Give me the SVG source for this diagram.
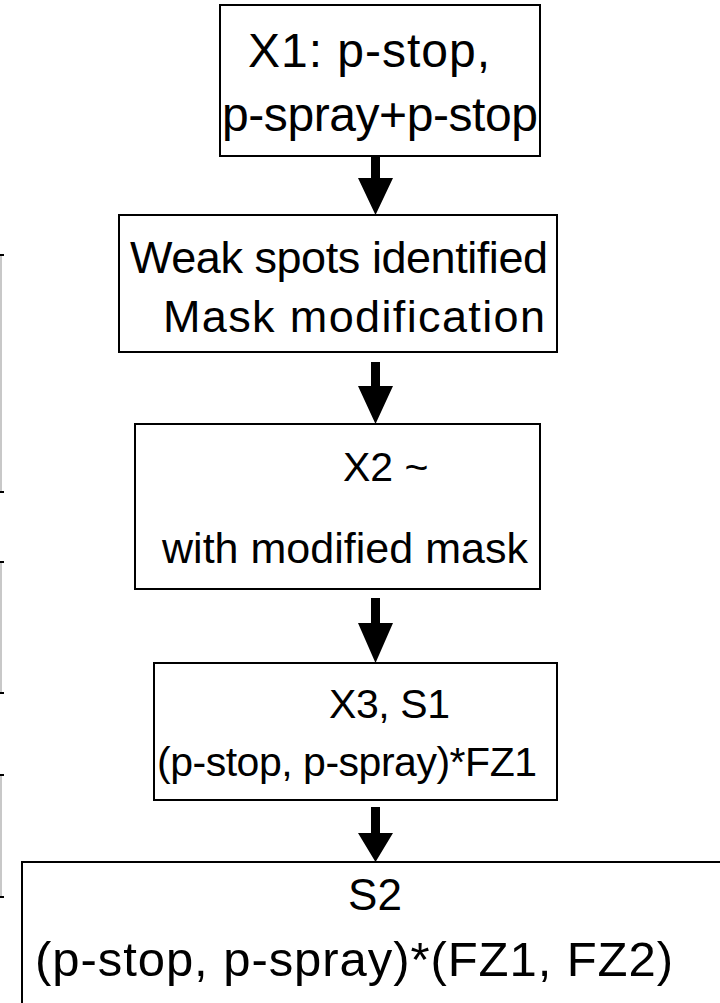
<svg xmlns="http://www.w3.org/2000/svg" width="720" height="1003" viewBox="0 0 720 1003">
  <style>
    .box { fill: #ffffff; stroke: #000000; stroke-width: 2; }
    .lbl { font-family: "Liberation Sans", Arial, sans-serif; fill: #000000; }
    .arrow { fill: #000000; }
    .brk { stroke: #c8c8c8; stroke-width: 2; fill: none; }
    .tick { stroke: #000000; stroke-width: 2; }
  </style>
  <rect width="720" height="1003" fill="#ffffff"/>

  <!-- side brackets along the left edge -->
  <g id="brackets">
    <line class="brk" x1="1" y1="255" x2="1" y2="492"/>
    <line class="tick" x1="0" y1="255" x2="4" y2="255"/>
    <line class="tick" x1="0" y1="492" x2="4" y2="492"/>
    <line class="brk" x1="1" y1="562" x2="1" y2="693"/>
    <line class="tick" x1="0" y1="562" x2="4" y2="562"/>
    <line class="tick" x1="0" y1="693" x2="4" y2="693"/>
    <line class="brk" x1="1" y1="775" x2="1" y2="897"/>
    <line class="tick" x1="0" y1="775" x2="4" y2="775"/>
    <line class="tick" x1="0" y1="897" x2="4" y2="897"/>
  </g>

  <!-- flow connectors -->
  <g id="connectors">
    <polygon class="arrow" points="371,157 380,157 380,178 393,178 375.5,215 358,178 371,178"/>
    <polygon class="arrow" points="371,362 380,362 380,386 393,386 375.5,424 358,386 371,386"/>
    <polygon class="arrow" points="371,598 380,598 380,623 393,623 375.5,663 358,623 371,623"/>
    <polygon class="arrow" points="371,807 380,807 380,833 393,833 375.5,862 358,833 371,833"/>
  </g>

  <g id="node1">
    <rect class="box" x="220" y="5" width="320" height="151"/>
    <text class="lbl" x="248" y="67" font-size="48" textLength="242" lengthAdjust="spacing">X1: p-stop,</text>
    <text class="lbl" x="222" y="131" font-size="48" textLength="316" lengthAdjust="spacing">p-spray+p-stop</text>
  </g>

  <g id="node2">
    <rect class="box" x="119" y="215" width="438" height="137"/>
    <text class="lbl" x="130" y="273" font-size="45" textLength="418" lengthAdjust="spacing">Weak spots identified</text>
    <text class="lbl" x="163" y="332" font-size="45" textLength="382" lengthAdjust="spacing">Mask modification</text>
  </g>

  <g id="node3">
    <rect class="box" x="135" y="424" width="405" height="165"/>
    <text class="lbl" x="343" y="481" font-size="41">X2 ~</text>
    <text class="lbl" x="162" y="563" font-size="43" textLength="366" lengthAdjust="spacing">with modified mask</text>
  </g>

  <g id="node4">
    <rect class="box" x="154" y="663" width="403" height="137"/>
    <text class="lbl" x="329" y="718" font-size="41" textLength="121" lengthAdjust="spacing">X3, S1</text>
    <text class="lbl" x="157" y="776" font-size="41" textLength="380" lengthAdjust="spacing">(p-stop, p-spray)*FZ1</text>
  </g>

  <g id="node5">
    <rect class="box" x="22" y="862" width="710" height="160"/>
    <text class="lbl" x="375" y="910" font-size="44" text-anchor="middle">S2</text>
    <text class="lbl" x="35" y="976" font-size="49" textLength="638" lengthAdjust="spacing">(p-stop, p-spray)*(FZ1, FZ2)</text>
  </g>
</svg>
